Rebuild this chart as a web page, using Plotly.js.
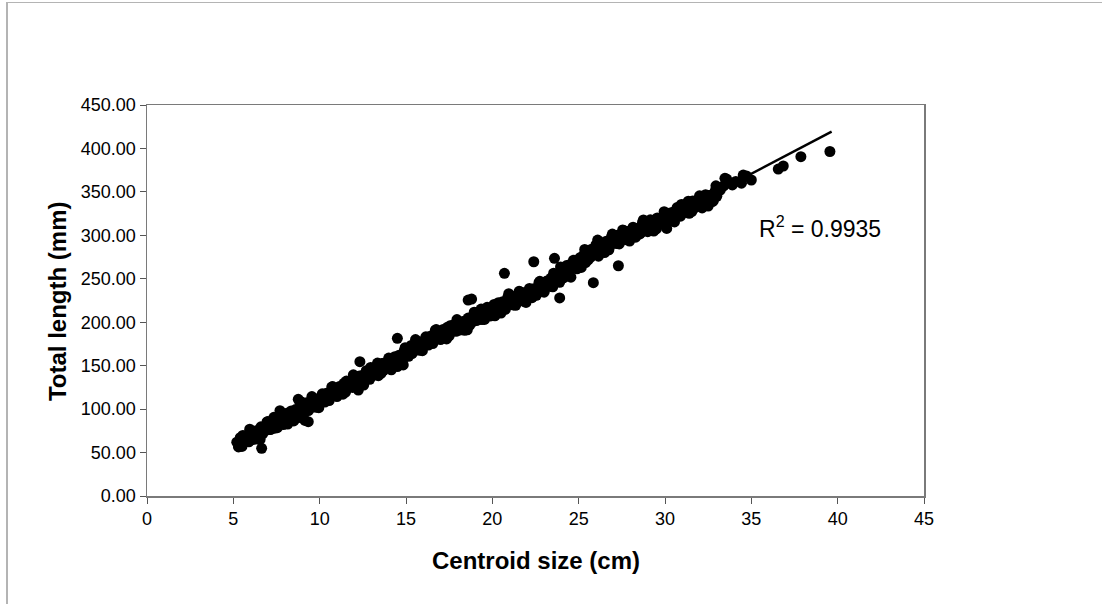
<!DOCTYPE html>
<html>
<head>
<meta charset="utf-8">
<script src="https://cdn.plot.ly/plotly-3.0.1.min.js"></script>
<style>
html,body{margin:0;padding:0;background:#fff;}
#wrap{position:relative;width:1102px;height:604px;}
#chart{width:1102px;height:604px;}
#frame{position:absolute;left:6px;top:2px;right:0;bottom:0;border-left:2px solid #b4b4b4;border-top:1px solid #b4b4b4;pointer-events:none;}
</style>
</head>
<body>
<div id="wrap"><div id="chart"></div><div id="frame"></div></div>
<script>
// Centroid size (cm) values
const centroidSize = [
5.2,5.3,5.4,5.5,5.6,5.7,5.8,5.9,6.0,6.1,
6.2,6.3,6.4,6.5,6.6,6.7,6.8,6.9,7.0,7.1,
7.2,7.3,7.4,7.5,7.6,7.7,7.8,7.9,8.0,8.1,
8.2,8.3,8.4,8.5,8.6,8.7,8.8,8.9,9.0,9.1,
9.2,9.3,9.4,9.5,9.6,9.7,9.8,9.9,10.0,10.1,
10.2,10.3,10.4,10.5,10.6,10.7,10.8,10.9,11.0,11.1,
11.2,11.3,11.4,11.5,11.6,11.7,11.8,11.9,12.0,12.1,
12.2,12.3,12.4,12.5,12.6,12.7,12.8,12.9,13.0,13.1,
13.2,13.3,13.4,13.5,13.6,13.7,13.8,13.9,14.0,14.1,
14.2,14.3,14.4,14.5,14.6,14.7,14.8,14.9,15.0,15.1,
15.2,15.3,15.4,15.5,15.6,15.7,15.8,15.9,16.0,16.1,
16.2,16.3,16.4,16.5,16.6,16.7,16.8,16.9,17.0,17.1,
17.2,17.3,17.4,17.5,17.6,17.7,17.8,17.9,18.0,18.1,
18.2,18.3,18.4,18.5,18.6,18.7,18.8,18.9,19.0,19.1,
19.2,19.3,19.4,19.5,19.6,19.7,19.8,19.9,20.0,20.1,
20.2,20.3,20.4,20.5,20.6,20.7,20.8,20.9,21.0,21.1,
21.2,21.3,21.4,21.5,21.6,21.7,21.8,21.9,22.0,22.1,
22.2,22.3,22.4,22.5,22.6,22.7,22.8,22.9,23.0,23.1,
23.2,23.3,23.4,23.5,23.6,23.7,23.8,23.9,24.0,24.1,
24.2,24.3,24.4,24.5,24.6,24.7,24.8,24.9,25.0,25.1,
25.2,25.3,25.4,25.5,25.6,25.7,25.8,25.9,26.0,26.1,
26.2,26.3,26.4,26.5,26.6,26.7,26.8,26.9,27.0,27.1,
27.2,27.3,27.4,27.5,27.6,27.7,27.8,27.9,28.0,28.1,
28.2,28.3,28.4,28.5,28.6,28.7,28.8,28.9,29.0,29.1,
29.2,29.3,29.4,29.5,29.6,29.7,29.8,29.9,30.0,30.1,
30.2,30.3,30.4,30.5,30.6,30.7,30.8,30.9,31.0,31.1,
31.2,31.3,31.4,31.5,31.6,31.7,31.8,31.9,32.0,32.1,
32.2,32.3,32.4,32.5,32.6,32.7,32.8,32.9,33.0,
5.35,5.55,5.75,5.95,6.15,6.35,6.55,6.75,6.95,7.15,
7.35,7.55,7.75,7.95,8.15,8.35,8.55,8.75,8.95,9.15,
9.35,9.55,9.75,9.95,10.15,10.35,10.55,10.75,10.95,11.15,
11.35,11.55,11.75,11.95,12.15,12.35,12.55,12.75,12.95,13.15,
13.35,13.55,13.75,13.95,14.15,14.35,14.55,14.75,14.95,15.15,
15.35,15.55,15.75,15.95,16.15,16.35,16.55,16.75,16.95,17.15,
17.35,17.55,17.75,17.95,18.15,18.35,18.55,18.75,18.95,19.15,
19.35,19.55,19.75,19.95,20.15,20.35,20.55,20.75,20.95,21.15,
21.35,21.55,21.75,21.95,22.15,22.35,22.55,22.75,22.95,23.15,
23.35,23.55,23.75,23.95,24.15,24.35,24.55,24.75,24.95,25.15,
25.35,25.55,25.75,25.95,26.15,26.35,26.55,26.75,26.95,27.15,
27.35,27.55,27.75,27.95,28.15,28.35,28.55,28.75,28.95,29.15,
29.35,29.55,29.75,29.95,30.15,30.35,30.55,30.75,30.95,31.15,
31.35,31.55,31.75,31.95,32.15,32.35,32.55,32.75,32.95,
5.3,6.64,7.7,8.76,9.34,9.15,12.33,12.24,14.5,14.84,
18.6,18.8,20.7,22.4,23.6,23.9,25.85,26.1,27.3,30.1,32.12,
33.2,33.4,33.9,34.1,
33.47,33.57,34.43,34.53,34.72,35.0,36.56,36.85,37.87,39.55
];
// Total length (mm) values
const totalLength = [
62.0,58.0,67.1,57.1,65.2,69.2,65.3,62.3,74.3,67.4,
70.4,74.4,65.5,75.5,79.6,71.6,77.7,75.7,85.7,76.8,
79.9,85.9,78.0,87.0,83.1,92.1,87.2,82.2,91.2,95.3,
94.3,90.3,94.4,86.4,99.5,96.5,93.6,104.6,98.6,102.7,
97.7,107.7,105.8,101.8,112.9,105.9,102.0,112.0,110.0,109.1,
113.2,108.2,118.3,115.3,113.4,125.4,116.5,121.5,114.5,124.6,
124.6,120.6,129.7,119.7,127.8,131.8,127.9,124.9,136.9,130.0,
132.0,138.0,130.1,139.1,135.2,144.2,139.3,134.3,143.3,147.4,
143.4,147.4,138.5,148.5,152.6,144.6,150.7,148.7,158.7,149.8,
156.9,152.9,157.0,149.0,162.1,159.1,156.2,167.2,161.2,165.3,
163.3,173.3,171.4,167.4,178.5,171.5,167.6,177.6,175.6,174.7,
178.7,173.7,183.8,180.8,178.9,190.9,182.0,187.0,180.0,190.1,
189.2,185.2,194.3,184.3,192.4,196.4,192.5,189.5,201.5,194.6,
195.6,199.6,190.7,200.7,204.8,196.8,202.9,200.9,210.9,202.0,
205.0,211.0,203.1,213.1,208.2,217.2,212.3,207.3,216.3,220.4,
218.5,214.5,218.6,210.6,223.7,220.7,217.8,228.8,222.8,226.9,
219.9,229.9,228.0,224.0,235.1,228.1,224.2,234.2,232.2,231.3,
233.3,228.3,238.4,235.4,233.5,245.5,236.6,241.6,234.6,244.7,
245.7,241.7,250.8,240.8,248.9,252.9,249.0,246.0,258.0,251.1,
259.2,265.2,257.3,266.3,262.4,271.4,266.5,261.5,270.5,274.6,
273.6,277.6,268.7,278.7,282.8,274.8,280.9,278.9,288.9,280.0,
288.0,284.0,288.1,280.1,293.2,290.2,287.3,298.3,292.3,296.4,
290.5,300.5,298.6,294.6,305.7,298.7,294.8,304.8,302.8,301.9,
302.9,297.9,308.0,305.0,303.1,315.1,306.2,311.2,304.2,314.3,
312.3,308.3,317.4,307.4,315.5,319.5,315.6,312.6,324.6,317.7,
319.8,325.8,317.9,326.9,323.0,332.0,327.1,322.1,331.1,335.2,
330.2,334.2,325.3,335.3,339.4,331.4,337.5,335.5,345.5,336.6,
342.6,338.6,342.7,333.7,345.8,342.8,339.9,350.9,344.9,
58.6,69.7,63.8,76.9,64.9,75.0,65.1,77.2,85.3,76.4,
90.5,78.6,90.7,87.8,82.8,97.9,97.0,90.1,108.2,98.3,
98.3,114.4,104.5,101.6,117.6,113.7,109.8,125.9,118.0,126.1,
117.2,132.3,126.4,139.5,127.5,137.6,127.7,139.8,147.9,139.0,
153.0,141.1,153.2,150.3,145.3,160.4,159.5,152.6,170.7,160.8,
163.9,180.0,170.1,167.2,183.2,179.3,175.4,191.5,183.6,191.7,
180.8,195.9,190.0,203.1,191.1,201.2,191.3,203.4,211.5,202.6,
215.1,203.2,215.3,212.4,207.4,222.5,221.6,214.7,232.8,222.9,
219.5,235.6,225.7,222.8,238.8,234.9,231.0,247.1,239.2,247.3,
241.3,256.4,250.5,263.6,251.6,261.7,251.8,263.9,272.0,263.1,
283.7,271.8,283.9,281.0,276.0,291.1,290.2,283.3,301.4,291.5,
290.1,306.2,296.3,293.4,309.4,305.5,301.6,317.7,309.8,317.9,
304.9,320.0,314.1,327.2,315.2,325.3,315.4,327.5,335.6,326.7,
339.3,327.4,339.5,336.6,331.6,346.7,345.8,338.9,357.0,
56.5,54.9,98.2,111.3,85.5,87.0,154.6,122.0,181.5,150.8,
225.5,226.7,256.3,269.6,273.6,228.0,245.5,294.6,265.0,308.0,333.0,
352.0,357.0,358.0,362.0,
365.6,364.8,360.0,369.4,368.3,363.7,376.3,379.8,390.5,396.5
];
// Linear trendline end points
const trendX = [5.2, 39.65];
const trendY = [60.0, 419.3];
const r2Label = 'R<sup>2</sup> = 0.9935';
const xTickVals = [0,5,10,15,20,25,30,35,40,45];
const yTickVals = [0,50,100,150,200,250,300,350,400,450];

const font = 'Liberation Sans, Arial, sans-serif';
const data = [
  {type:'scatter', mode:'markers', x:centroidSize, y:totalLength,
   marker:{color:'#000', size:11, line:{width:0}}, hoverinfo:'x+y', showlegend:false},
  {type:'scatter', mode:'lines', x:trendX, y:trendY,
   line:{color:'#000', width:2.5}, hoverinfo:'skip', showlegend:false}
];
const axisCommon = {showgrid:false, zeroline:false, showline:true, mirror:true,
  linecolor:'#7a7a7a', linewidth:1.5, ticks:'outside', ticklen:6, tickcolor:'#555',
  tickwidth:1, tickfont:{family:font, size:18, color:'#000'}};
const layout = {
  width:1102, height:604, paper_bgcolor:'#fff', plot_bgcolor:'#fff',
  margin:{l:147, r:178, t:105, b:108},
  xaxis: Object.assign({}, axisCommon, {range:[0,45], tickvals:xTickVals, ticktext:xTickVals.map(String)}),
  yaxis: Object.assign({}, axisCommon, {range:[0,450], tickvals:yTickVals, ticktext:yTickVals.map(v=>v.toFixed(2))}),
  annotations:[
    {xref:'paper', yref:'paper', x:0.5006, y:-0.166, text:'<b>Centroid size (cm)</b>', showarrow:false,
     font:{family:font, size:24, color:'#000'}, xanchor:'center', yanchor:'middle'},
    {xref:'paper', yref:'paper', x:-0.1158, y:0.4987, text:'<b>Total length (mm)</b>', showarrow:false, textangle:-90,
     font:{family:font, size:24, color:'#000'}, xanchor:'center', yanchor:'middle'},
    {xref:'x', yref:'y', x:35.3, y:309.6, text:r2Label, showarrow:false,
     font:{family:font, size:23, color:'#000'}, xanchor:'left', yanchor:'middle'}
  ]
};
Plotly.newPlot('chart', data, layout, {displayModeBar:false, staticPlot:true});
</script>
</body>
</html>
